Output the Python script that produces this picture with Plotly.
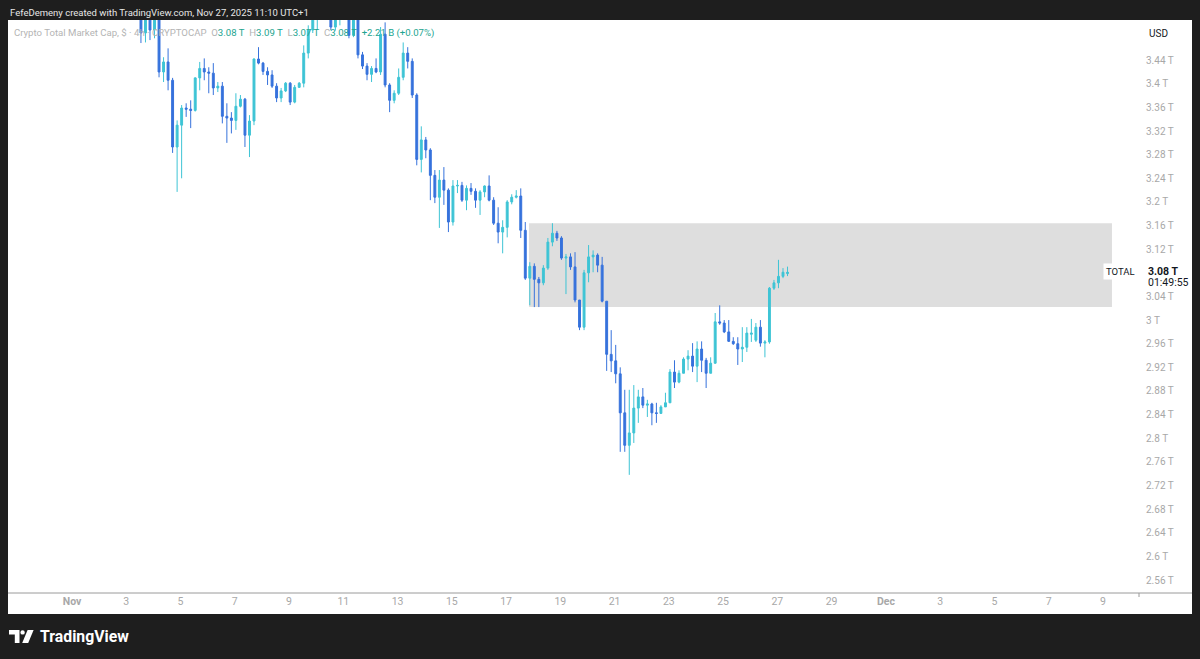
import plotly.graph_objects as go
import pandas as pd

# ---------------- data (4h candles, times in UTC+1) ----------------
first_bar = "2025-11-03 13:00"
bar_freq = "4h"

opens = [3.525, 3.486, 3.518, 3.491, 3.515, 3.420, 3.437, 3.406, 3.293, 3.330,
         3.359, 3.357, 3.355, 3.410, 3.426, 3.420, 3.418, 3.393, 3.396, 3.345,
         3.342, 3.338, 3.362, 3.374, 3.313, 3.337, 3.442, 3.435, 3.421, 3.415,
         3.396, 3.376, 3.388, 3.401, 3.369, 3.394, 3.401, 3.452, 3.491, 3.525,
         3.550, 3.575, 3.560, 3.496, 3.530, 3.545, 3.560, 3.482, 3.520, 3.449,
         3.430, 3.416, 3.426, 3.420, 3.484, 3.398, 3.372, 3.384, 3.411, 3.452,
         3.438, 3.381, 3.272, 3.305, 3.288, 3.245, 3.208, 3.237, 3.220, 3.166,
         3.227, 3.228, 3.203, 3.223, 3.218, 3.203, 3.217, 3.227, 3.203, 3.164,
         3.149, 3.157, 3.200, 3.208, 3.210, 3.152, 3.071, 3.091, 3.069, 3.063,
         3.088, 3.132, 3.147, 3.139, 3.105, 3.107, 3.090, 3.034, 2.988, 3.080,
         3.107, 3.110, 3.093, 3.032, 2.942, 2.931, 2.909, 2.843, 2.788, 2.809,
         2.851, 2.870, 2.856, 2.858, 2.843, 2.842, 2.853, 2.860, 2.912, 2.895,
         2.910, 2.934, 2.939, 2.922, 2.951, 2.932, 2.910, 2.927, 2.997, 2.995,
         2.980, 2.964, 2.960, 2.951, 2.954, 2.976, 2.966, 2.988, 2.961, 2.963,
         3.054, 3.063, 3.074, 3.0787]
highs = [3.535, 3.530, 3.528, 3.530, 3.522, 3.445, 3.460, 3.410, 3.338, 3.364,
         3.367, 3.372, 3.411, 3.437, 3.443, 3.428, 3.435, 3.403, 3.403, 3.367,
         3.352, 3.384, 3.381, 3.376, 3.347, 3.443, 3.462, 3.437, 3.428, 3.423,
         3.401, 3.393, 3.403, 3.403, 3.398, 3.403, 3.465, 3.499, 3.535, 3.560,
         3.585, 3.590, 3.570, 3.540, 3.555, 3.575, 3.570, 3.530, 3.528, 3.454,
         3.435, 3.430, 3.443, 3.496, 3.504, 3.401, 3.389, 3.426, 3.470, 3.462,
         3.443, 3.384, 3.328, 3.310, 3.291, 3.254, 3.254, 3.259, 3.223, 3.237,
         3.237, 3.234, 3.228, 3.232, 3.223, 3.220, 3.228, 3.245, 3.208, 3.191,
         3.169, 3.203, 3.213, 3.220, 3.223, 3.166, 3.098, 3.096, 3.073, 3.093,
         3.139, 3.164, 3.151, 3.142, 3.112, 3.113, 3.115, 3.034, 3.085, 3.127,
         3.118, 3.113, 3.107, 3.032, 2.983, 2.958, 2.920, 2.882, 2.882, 2.890,
         2.882, 2.885, 2.865, 2.860, 2.860, 2.856, 2.877, 2.917, 2.932, 2.915,
         2.937, 2.949, 2.961, 2.964, 2.964, 2.936, 2.937, 3.012, 3.025, 3.000,
         3.000, 2.971, 2.971, 2.988, 2.988, 3.002, 2.995, 3.000, 2.966, 3.056,
         3.068, 3.102, 3.088, 3.0905]
lows = [3.469, 3.470, 3.474, 3.477, 3.411, 3.403, 3.389, 3.283, 3.217, 3.240,
        3.344, 3.325, 3.353, 3.389, 3.406, 3.384, 3.381, 3.386, 3.333, 3.300,
        3.316, 3.322, 3.360, 3.293, 3.276, 3.330, 3.433, 3.415, 3.398, 3.393,
        3.369, 3.369, 3.386, 3.364, 3.367, 3.393, 3.394, 3.443, 3.486, 3.491,
        3.535, 3.545, 3.491, 3.490, 3.499, 3.520, 3.477, 3.479, 3.443, 3.425,
        3.406, 3.403, 3.418, 3.415, 3.394, 3.352, 3.367, 3.381, 3.406, 3.426,
        3.376, 3.262, 3.250, 3.274, 3.203, 3.198, 3.156, 3.195, 3.149, 3.160,
        3.215, 3.200, 3.186, 3.212, 3.190, 3.178, 3.208, 3.201, 3.161, 3.130,
        3.113, 3.140, 3.196, 3.206, 3.139, 3.068, 3.025, 3.022, 3.022, 3.059,
        3.085, 3.125, 3.134, 3.102, 3.044, 3.085, 3.030, 2.983, 2.983, 3.064,
        3.081, 3.081, 3.030, 2.914, 2.912, 2.893, 2.777, 2.777, 2.738, 2.792,
        2.826, 2.851, 2.836, 2.822, 2.826, 2.842, 2.853, 2.860, 2.885, 2.893,
        2.910, 2.915, 2.912, 2.895, 2.912, 2.885, 2.910, 2.926, 2.992, 2.978,
        2.963, 2.958, 2.924, 2.929, 2.946, 2.963, 2.963, 2.955, 2.937, 2.960,
        3.051, 3.054, 3.071, 3.0745]
closes = [3.486, 3.518, 3.491, 3.515, 3.420, 3.437, 3.406, 3.293, 3.330, 3.359,
          3.357, 3.355, 3.410, 3.426, 3.420, 3.418, 3.393, 3.396, 3.345, 3.342,
          3.338, 3.362, 3.374, 3.313, 3.337, 3.442, 3.435, 3.421, 3.415, 3.396,
          3.376, 3.388, 3.401, 3.369, 3.394, 3.401, 3.452, 3.491, 3.525, 3.550,
          3.575, 3.560, 3.496, 3.530, 3.545, 3.560, 3.482, 3.520, 3.449, 3.430,
          3.416, 3.426, 3.420, 3.484, 3.398, 3.372, 3.384, 3.411, 3.452, 3.438,
          3.381, 3.272, 3.305, 3.288, 3.245, 3.208, 3.237, 3.220, 3.166, 3.227,
          3.228, 3.203, 3.223, 3.218, 3.203, 3.217, 3.227, 3.203, 3.164, 3.149,
          3.157, 3.200, 3.208, 3.210, 3.152, 3.071, 3.091, 3.069, 3.063, 3.088,
          3.132, 3.147, 3.139, 3.105, 3.107, 3.090, 3.034, 2.988, 3.080, 3.107,
          3.110, 3.093, 3.032, 2.942, 2.931, 2.909, 2.843, 2.788, 2.809, 2.851,
          2.870, 2.856, 2.858, 2.843, 2.842, 2.853, 2.860, 2.912, 2.895, 2.910,
          2.934, 2.939, 2.922, 2.951, 2.932, 2.910, 2.927, 2.997, 2.995, 2.980,
          2.964, 2.960, 2.951, 2.954, 2.978, 2.978, 2.988, 2.961, 2.963, 3.054,
          3.063, 3.074, 3.081, 3.0809]

x_tick_dates = ["2025-11-01", "2025-11-03", "2025-11-05", "2025-11-07", "2025-11-09",
                "2025-11-11", "2025-11-13", "2025-11-15", "2025-11-17", "2025-11-19",
                "2025-11-21", "2025-11-23", "2025-11-25", "2025-11-27", "2025-11-29",
                "2025-12-01", "2025-12-03", "2025-12-05", "2025-12-07", "2025-12-09"]
x_tick_labels = ["<b>Nov</b>", "3", "5", "7", "9", "11", "13", "15", "17", "19", "21",
                 "23", "25", "27", "29", "<b>Dec</b>", "3", "5", "7", "9"]
# 3.08 T is covered by the last-price label on the axis, so it is not listed
y_tick_values = [2.56, 2.60, 2.64, 2.68, 2.72, 2.76, 2.80, 2.84, 2.88, 2.92, 2.96,
                 3.00, 3.04, 3.12, 3.16, 3.20, 3.24, 3.28, 3.32, 3.36, 3.40, 3.44]
y_tick_labels = ["2.56 T", "2.6 T", "2.64 T", "2.68 T", "2.72 T", "2.76 T", "2.8 T",
                 "2.84 T", "2.88 T", "2.92 T", "2.96 T", "3 T", "3.04 T",
                 "3.12 T", "3.16 T", "3.2 T", "3.24 T", "3.28 T", "3.32 T", "3.36 T",
                 "3.4 T", "3.44 T"]

zone_start, zone_end = "2025-11-17 20:15", "2025-12-09 08:00"
zone_low, zone_high = 3.022, 3.164
last_price = 3.0809

x_view = ["2025-10-29 15:23", "2025-12-10 07:56"]
y_view = [2.538, 3.508]

# ---------------- styling ----------------
UP = "#3ec4d5"
DOWN = "#3672dc"
DARK = "#1e1e1e"
FONT = "Roboto"
PLOT_L, PLOT_R, PLOT_T, PLOT_B = 8, 1139, 20, 593


def fx(px):
    return (px - PLOT_L) / (PLOT_R - PLOT_L)


def fy(py):
    return (PLOT_B - py) / (PLOT_B - PLOT_T)


dates = pd.date_range(first_bar, periods=len(opens), freq=bar_freq)

fig = go.Figure()
fig.add_trace(go.Candlestick(
    x=dates, open=opens, high=highs, low=lows, close=closes,
    increasing=dict(line=dict(color=UP, width=1), fillcolor=UP),
    decreasing=dict(line=dict(color=DOWN, width=1), fillcolor=DOWN),
    whiskerwidth=0, hoverinfo="skip", showlegend=False,
))

shapes = [
    # white chart panel (incl. axis strips)
    dict(type="rect", xref="paper", yref="paper", x0=fx(8), x1=fx(1192),
         y0=fy(614), y1=fy(20), fillcolor="white", line_width=0, layer="below"),
    # bottom separator line
    dict(type="line", xref="paper", yref="paper", x0=fx(8), x1=fx(1192),
         y0=0, y1=0, line=dict(color="#9a9a9a", width=1), layer="above"),
    dict(type="line", xref="paper", yref="paper", x0=1, x1=1,
         y0=0, y1=fy(597), line=dict(color="#9a9a9a", width=1), layer="above"),
    # gray zone
    dict(type="rect", xref="x", yref="y", x0=zone_start, x1=zone_end,
         y0=zone_low, y1=zone_high, fillcolor="#dedede", line_width=0, layer="below"),
    # price line (only shows as a lighter dotted line over the gray zone)
    dict(type="line", xref="paper", yref="y", x0=0, x1=1, y0=last_price, y1=last_price,
         line=dict(color="rgba(255,255,255,0.65)", width=1, dash="dot"), layer="below"),
    # TradingView logo
    dict(type="path", xref="paper", yref="paper", fillcolor="white", line_width=0,
         path=f"M {fx(9)},{fy(630)} L {fx(19.5)},{fy(630)} L {fx(19.5)},{fy(643)} "
              f"L {fx(14.8)},{fy(643)} L {fx(14.8)},{fy(634.6)} L {fx(9)},{fy(634.6)} Z"),
    dict(type="circle", xref="paper", yref="paper", fillcolor="white", line_width=0,
         x0=fx(20.4), x1=fx(24.8), y0=fy(634.6), y1=fy(630.2)),
    dict(type="path", xref="paper", yref="paper", fillcolor="white", line_width=0,
         path=f"M {fx(27.6)},{fy(630)} L {fx(33.6)},{fy(630)} L {fx(28.2)},{fy(643)} "
              f"L {fx(22.2)},{fy(643)} Z"),
]

GREEN = "#22a48f"
GRAY = "#b4b4b4"
legend_text = (
    f'<span style="color:{GRAY}">Crypto Total Market Cap, $ · 4h · CRYPTOCAP</span>&nbsp;&nbsp;'
    f'<span style="color:{GRAY}">O</span><span style="color:{GREEN}">3.08 T</span>&nbsp;&nbsp;'
    f'<span style="color:{GRAY}">H</span><span style="color:{GREEN}">3.09 T</span>&nbsp;&nbsp;'
    f'<span style="color:{GRAY}">L</span><span style="color:{GREEN}">3.07 T</span>&nbsp;&nbsp;'
    f'<span style="color:{GRAY}">C</span><span style="color:{GREEN}">3.08 T</span>&nbsp;&nbsp;'
    f'<span style="color:{GREEN}">+2.21 B (+0.07%)</span>'
)

annotations = [
    dict(text="FefeDemeny created with TradingView.com, Nov 27, 2025 11:10 UTC+1",
         x=fx(8), y=fy(12.5), xanchor="left", yanchor="middle",
         font=dict(color="#e6e6e6", size=9.5, family=FONT)),
    dict(text=legend_text, x=fx(12), y=fy(33), xanchor="left", yanchor="middle",
         font=dict(size=9.6, family=FONT)),
    dict(text="USD", x=fx(1147), y=fy(33), xanchor="left", yanchor="middle",
         font=dict(color="#131722", size=10, family=FONT)),
    dict(text="TOTAL", x=fx(1138), y=fy(271.5), xanchor="right", yanchor="middle",
         bgcolor="white", borderpad=2,
         font=dict(color="#131722", size=9.5, family=FONT)),
    dict(text="<b>3.08 T</b>", x=fx(1146), y=fy(271), xanchor="left", yanchor="middle",
         font=dict(color="#131722", size=10.5, family=FONT)),
    dict(text="01:49:55", x=fx(1146), y=fy(283), xanchor="left", yanchor="middle",
         font=dict(color="#131722", size=10.5, family=FONT)),
    dict(text="<b>TradingView</b>", x=fx(37.5), y=fy(636.5), xanchor="left", yanchor="middle",
         font=dict(color="white", size=15.8, family=FONT)),
]
for a in annotations:
    a.update(xref="paper", yref="paper", showarrow=False)

fig.update_layout(
    width=1200, height=659,
    margin=dict(l=PLOT_L, r=1200 - PLOT_R, t=PLOT_T, b=659 - PLOT_B),
    paper_bgcolor=DARK, plot_bgcolor="white",
    boxgap=0.4,
    shapes=shapes, annotations=annotations,
    font=dict(family=FONT),
    xaxis=dict(type="date", range=x_view, rangeslider=dict(visible=False),
               tickmode="array", tickvals=x_tick_dates, ticktext=x_tick_labels,
               showgrid=False, zeroline=False, showline=False, ticks="",
               tickfont=dict(color="#a8a8a8", size=10.5, family=FONT), fixedrange=True),
    yaxis=dict(side="right", range=y_view, tickmode="array", tickvals=y_tick_values,
               ticktext=y_tick_labels, showgrid=False, zeroline=False, showline=False,
               ticks="", ticklabelstandoff=6,
               tickfont=dict(color="#a8a8a8", size=10, family=FONT), fixedrange=True),
)

fig.write_html("out.html", config={"displayModeBar": False},
               post_script="document.body.style.margin='0px';document.body.style.overflow='hidden';")
